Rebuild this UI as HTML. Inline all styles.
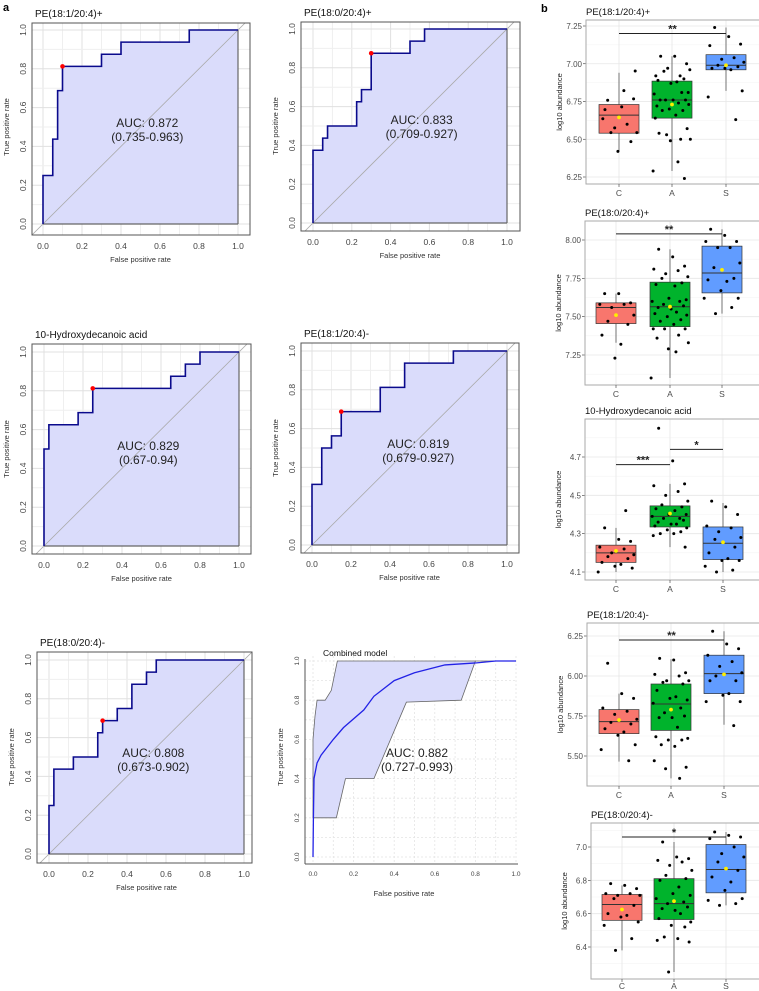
<!DOCTYPE html>
<html><head><meta charset="utf-8">
<style>
html,body{margin:0;padding:0;background:#fff;}
svg{display:block;font-family:"Liberation Sans",sans-serif;}
</style></head>
<body>
<svg id="fig" width="759" height="991" viewBox="0 0 759 991" xmlns="http://www.w3.org/2000/svg">
<text x="3" y="11" font-size="11" font-weight="bold">a</text>
<text x="541" y="12" font-size="11" font-weight="bold">b</text>
</svg>
<script>
// ---------- ROC data ----------
const roc1Fpr=[0,0,.05,.05,.075,.075,.1,.1,.3,.3,.4,.4,.75,.75,1];
const roc1Tpr=[0,.25,.25,.4375,.4375,.6875,.6875,.8125,.8125,.875,.875,.9375,.9375,1,1];
const roc1Best=[.1,.8125];
const roc2Fpr=[0,0,.05,.05,.075,.075,.225,.225,.25,.25,.3,.3,.5,.5,.575,.575,1];
const roc2Tpr=[0,.375,.375,.4375,.4375,.5,.5,.625,.625,.6875,.6875,.875,.875,.9375,.9375,1,1];
const roc2Best=[.3,.875];
const roc3Fpr=[0,0,.025,.025,.175,.175,.25,.25,.65,.65,.725,.725,.8,.8,1];
const roc3Tpr=[0,.5,.5,.625,.625,.6875,.6875,.8125,.8125,.875,.875,.9375,.9375,1,1];
const roc3Best=[.25,.8125];
const roc4Fpr=[0,0,.05,.05,.1,.1,.15,.15,.35,.35,.475,.475,.725,.725,1];
const roc4Tpr=[0,.3125,.3125,.5,.5,.5625,.5625,.6875,.6875,.8125,.8125,.9375,.9375,1,1];
const roc4Best=[.15,.6875];
const roc5Fpr=[0,0,.025,.025,.125,.125,.25,.25,.275,.275,.35,.35,.425,.425,.5,.5,.55,.55,1];
const roc5Tpr=[0,.25,.25,.4375,.4375,.5,.5,.625,.625,.6875,.6875,.75,.75,.875,.875,.9375,.9375,1,1];
const roc5Best=[.275,.6875];
const rocTicks=[0,0.2,0.4,0.6,0.8,1.0];
const rocTickLabels=["0.0","0.2","0.4","0.6","0.8","1.0"];
const combMeanFpr=[0,.002,.005,.02,.04,.1,.15,.25,.3,.4,.5,.65,.8,.9,1];
const combMeanTpr=[0,.2,.4,.48,.52,.6,.66,.75,.82,.9,.94,.98,.99,1,1];
const combUpFpr=[0,0,.01,.02,.06,.09,.12,1];
const combUpTpr=[.2,.6,.72,.8,.8,.85,1,1];
const combLoFpr=[0,.115,.16,.3,.46,.73,.8,1];
const combLoTpr=[.2,.2,.4,.4,.79,.8,1,1];

// ---------- Boxplot data ----------
const groups=["C","A","S"];
const jit=[-.21,.05,.27,-.3,.15,-.08,.33,-.15,.22,-.26,.09,-.02,.3,-.33,.18,-.12,.25,-.22,.02,.12,-.28,.31,-.05,.2,-.18,.07,-.31,.28,-.1,.16,-.24,.34,-.03,.11,-.35,.23,-.14];
const b1Stats=[[6.42,6.54,6.66,6.73,6.94,6.645],[6.29,6.64,6.76,6.885,7.05,6.73],[6.82,6.96,6.99,7.06,7.24,6.99]];
const b1C=[6.758,6.714,6.767,6.636,6.599,6.575,6.544,6.544,6.484,6.696,6.822,6.42,6.952];
const b1A=[7.05,7.05,7.0,6.92,6.92,6.97,6.96,6.95,6.9,6.89,6.88,6.87,6.81,6.80,6.81,6.76,6.76,6.76,6.76,6.74,6.72,6.73,6.70,6.69,6.69,6.66,6.64,6.57,6.53,6.50,6.54,6.50,6.49,6.35,6.29,6.24];
const b1S=[7.24,7.18,7.13,7.12,7.04,7.03,7.01,6.99,6.98,6.97,6.96,6.97,6.82,6.78,6.63];
const b2Stats=[[7.33,7.455,7.56,7.59,7.65,7.51],[7.10,7.435,7.565,7.725,7.94,7.565],[7.52,7.655,7.785,7.96,8.07,7.805]];
const b2C=[7.65,7.65,7.59,7.58,7.58,7.56,7.51,7.47,7.45,7.38,7.32,7.23];
const b2A=[7.94,7.89,7.83,7.81,7.80,7.78,7.76,7.75,7.72,7.71,7.70,7.62,7.61,7.60,7.60,7.58,7.57,7.56,7.55,7.53,7.52,7.51,7.50,7.48,7.47,7.45,7.42,7.42,7.42,7.38,7.36,7.33,7.29,7.27,7.10];
const b2S=[8.07,8.03,7.99,7.99,7.95,7.95,7.85,7.82,7.75,7.74,7.73,7.67,7.62,7.62,7.56,7.52];
const b3Stats=[[4.10,4.15,4.20,4.24,4.33,4.21],[4.23,4.335,4.39,4.445,4.56,4.405],[4.10,4.165,4.25,4.335,4.46,4.255]];
const b3C=[4.33,4.27,4.26,4.23,4.22,4.20,4.19,4.18,4.17,4.15,4.14,4.13,4.12,4.10,4.42];
const b3A=[4.85,4.68,4.56,4.55,4.52,4.50,4.47,4.45,4.44,4.43,4.42,4.40,4.40,4.39,4.38,4.38,4.37,4.36,4.35,4.35,4.34,4.33,4.32,4.31,4.30,4.30,4.29,4.23];
const b3S=[4.47,4.44,4.40,4.34,4.33,4.31,4.28,4.27,4.23,4.20,4.17,4.16,4.16,4.13,4.11,4.10];
const b4Stats=[[5.465,5.64,5.715,5.79,5.89,5.725],[5.36,5.66,5.825,5.95,6.105,5.79],[5.695,5.89,6.015,6.13,6.28,6.01]];
const b4C=[6.08,5.89,5.86,5.80,5.78,5.76,5.73,5.71,5.70,5.67,5.65,5.63,5.57,5.54,5.47];
const b4A=[6.11,6.10,6.02,6.01,6.00,5.97,5.97,5.96,5.95,5.91,5.87,5.86,5.85,5.83,5.80,5.77,5.75,5.74,5.74,5.68,5.62,5.61,5.60,5.60,5.57,5.56,5.47,5.43,5.42,5.36];
const b4S=[6.28,6.20,6.17,6.13,6.09,6.06,6.02,6.00,5.97,5.97,5.89,5.88,5.84,5.84,5.69];
const b5Stats=[[6.38,6.56,6.655,6.715,6.77,6.625],[6.25,6.565,6.66,6.81,7.03,6.675],[6.65,6.725,6.865,7.015,7.09,6.87]];
const b5C=[6.78,6.77,6.75,6.72,6.72,6.71,6.71,6.69,6.65,6.60,6.59,6.58,6.55,6.53,6.45,6.38];
const b5A=[7.03,6.94,6.93,6.92,6.91,6.89,6.86,6.83,6.81,6.80,6.76,6.72,6.71,6.69,6.67,6.66,6.64,6.63,6.62,6.60,6.57,6.55,6.53,6.52,6.46,6.45,6.44,6.43,6.25];
const b5S=[7.09,7.07,7.06,7.05,7.00,6.96,6.94,6.91,6.86,6.82,6.79,6.74,6.69,6.68,6.66,6.65];

const NS="http://www.w3.org/2000/svg";
const svg=document.getElementById('fig');
function mk(tag,attrs,parent,text){const e=document.createElementNS(NS,tag);for(const k in attrs)e.setAttribute(k,attrs[k]);if(text!==undefined)e.textContent=text;(parent||svg).appendChild(e);return e;}
let clipId=0;

function rocPanel(name,P,fpr,tpr,best,auc,ci){
  const g=mk('g',{});
  
  
  const X=v=>P.x0+v*(P.x1-P.x0), Y=v=>P.y0-v*(P.y0-P.y1);
  const cid='c'+(clipId++);
  const cp=mk('clipPath',{id:cid},g);mk('rect',{x:P.l,y:P.t,width:P.r-P.l,height:P.b-P.t},cp);
  for(let i=0;i<=10;i++){const v=i/10;
    mk('line',{x1:X(v),x2:X(v),y1:P.t,y2:P.b,stroke:i%2?'#efefef':'#e0e0e0','stroke-width':1},g);
    mk('line',{y1:Y(v),y2:Y(v),x1:P.l,x2:P.r,stroke:i%2?'#efefef':'#e0e0e0','stroke-width':1},g);}
  let d='M'+X(fpr[0])+','+Y(0);
  for(let i=0;i<fpr.length;i++)d+=' L'+X(fpr[i])+','+Y(tpr[i]);
  d+=' L'+X(1)+','+Y(0)+' Z';
  const area=mk('path',{d:d,fill:'#dadcfb',stroke:'none'},g);
  
  
  mk('line',{x1:X(-0.1),y1:Y(-0.1),x2:X(1.1),y2:Y(1.1),stroke:'#aaa','stroke-width':.8,'clip-path':'url(#'+cid+')'},g);
  mk('line',{x1:X(1),y1:Y(0),x2:X(1),y2:Y(1),stroke:'#666','stroke-width':1.2},g);
  mk('line',{x1:X(0),y1:Y(0),x2:X(1),y2:Y(0),stroke:'#666','stroke-width':1.2},g);
  let d2='';for(let i=0;i<fpr.length;i++)d2+=(i?' L':'M')+X(fpr[i])+','+Y(tpr[i]);
  const line=mk('path',{d:d2,fill:'none',stroke:'#0a0a8c','stroke-width':1.6},g);
  
  
  const dot=mk('circle',{cx:X(best[0]),cy:Y(best[1]),r:2.3,fill:'#f00'},g);
  
  
  mk('rect',{x:P.l,y:P.t,width:P.r-P.l,height:P.b-P.t,fill:'none',stroke:'#555','stroke-width':1},g);
  rocTicks.forEach((v,i)=>{
    const tx=mk('text',{x:X(v),y:P.b+14,'font-size':8.5,fill:'#444','text-anchor':'middle'},g,rocTickLabels[i]);
    
    
    const ty=mk('text',{x:0,y:0,'font-size':8.5,fill:'#444','text-anchor':'middle',transform:'translate('+(P.l-6)+','+Y(v)+') rotate(-90)'},g,rocTickLabels[i]);
    
    
  });
  const xt=mk('text',{x:(X(0)+X(1))/2,y:P.b+27,'font-size':7.5,fill:'#333','text-anchor':'middle'},g,'False positive rate');
  
  
  const yt=mk('text',{x:0,y:0,'font-size':7.5,fill:'#333','text-anchor':'middle',transform:'translate('+(P.l-23)+','+((Y(0)+Y(1))/2)+') rotate(-90)'},g,'True positive rate');
  
  
  const tt=mk('text',{x:P.l+3,y:P.t-6,'font-size':10,fill:'#111'},g,P.title);
  
  
  const cx=X(P.ax),cy=Y(P.ay);
  const a1=mk('text',{x:cx,y:cy,'font-size':12,fill:'#222','text-anchor':'middle'},g,'AUC: '+auc);
  
  
  const a2=mk('text',{x:cx,y:cy+14,'font-size':12,fill:'#222','text-anchor':'middle'},g,'('+ci+')');
  
  
}
rocPanel('roc-pe-18-1-20-4-pos',{l:32,r:250,t:23,b:235,x0:43,x1:238,y0:224,y1:30,title:'PE(18:1/20:4)+',ax:.535,ay:.5},roc1Fpr,roc1Tpr,roc1Best,'0.872','0.735-0.963');
rocPanel('roc-pe-18-0-20-4-pos',{l:301,r:520,t:22,b:231,x0:313,x1:507,y0:223,y1:29,title:'PE(18:0/20:4)+',ax:.56,ay:.51},roc2Fpr,roc2Tpr,roc2Best,'0.833','0.709-0.927');
rocPanel('roc-10-hydroxydecanoic-acid',{l:32,r:251,t:344,b:554,x0:44,x1:239,y0:546,y1:352,title:'10-Hydroxydecanoic acid',ax:.535,ay:.495},roc3Fpr,roc3Tpr,roc3Best,'0.829','0.67-0.94');
rocPanel('roc-pe-18-1-20-4-neg',{l:301,r:519,t:343,b:553,x0:312,x1:507,y0:545,y1:351,title:'PE(18:1/20:4)-',ax:.545,ay:.5},roc4Fpr,roc4Tpr,roc4Best,'0.819','0.679-0.927');
rocPanel('roc-pe-18-0-20-4-neg',{l:37,r:252,t:652,b:863,x0:49,x1:244,y0:854,y1:660,title:'PE(18:0/20:4)-',ax:.535,ay:.5},roc5Fpr,roc5Tpr,roc5Best,'0.808','0.673-0.902');

// Combined model
(function(){
  const g=mk('g',{});
  
  
  const x0=313,x1=516,y0=857,y1=661;
  const X=v=>x0+v*(x1-x0), Y=v=>y0-v*(y0-y1);
  for(let i=0;i<=10;i++){const v=i/10;
    mk('line',{x1:X(v),x2:X(v),y1:y1-5,y2:864,stroke:'#e4e4e4','stroke-width':.8,'stroke-dasharray':'2,2'},g);
    mk('line',{y1:Y(v),y2:Y(v),x1:305,x2:X(1),stroke:'#e4e4e4','stroke-width':.8,'stroke-dasharray':'2,2'},g);}
  let d='';
  for(let i=0;i<combUpFpr.length;i++)d+=(i?' L':'M')+X(combUpFpr[i])+','+Y(combUpTpr[i]);
  for(let i=combLoFpr.length-1;i>=0;i--)d+=' L'+X(combLoFpr[i])+','+Y(combLoTpr[i]);
  d+=' Z';
  const band=mk('path',{d:d,fill:'#dadcfb',stroke:'#666','stroke-width':.8},g);
  
  
  let d2='';for(let i=0;i<combMeanFpr.length;i++)d2+=(i?' L':'M')+X(combMeanFpr[i])+','+Y(combMeanTpr[i]);
  const ml=mk('path',{d:d2,fill:'none',stroke:'#2222e6','stroke-width':1.3},g);
  
  
  mk('line',{x1:305,y1:y1-2,x2:305,y2:864,stroke:'#555','stroke-width':1},g);
  mk('line',{x1:305,y1:864,x2:X(1)+2,y2:864,stroke:'#555','stroke-width':1},g);
  rocTicks.forEach((v,i)=>{
    const tx=mk('text',{x:X(v),y:876,'font-size':6.5,fill:'#444','text-anchor':'middle'},g,rocTickLabels[i]);
    
    
    const ty=mk('text',{x:0,y:0,'font-size':6.5,fill:'#444','text-anchor':'middle',transform:'translate(299,'+Y(v)+') rotate(-90)'},g,rocTickLabels[i]);
    
    
  });
  const xt=mk('text',{x:404,y:896,'font-size':7.5,fill:'#333','text-anchor':'middle'},g,'False positive rate');
  
  
  const yt=mk('text',{x:0,y:0,'font-size':7.5,fill:'#333','text-anchor':'middle',transform:'translate(283,757) rotate(-90)'},g,'True positive rate');
  
  
  const tt=mk('text',{x:323,y:656,'font-size':8.5,fill:'#111'},g,'Combined model');
  
  
  const a1=mk('text',{x:417,y:757,'font-size':12,fill:'#222','text-anchor':'middle'},g,'AUC: 0.882');
  
  
  const a2=mk('text',{x:417,y:771,'font-size':12,fill:'#222','text-anchor':'middle'},g,'(0.727-0.993)');
  
  
})();

// ---------- Box plots ----------
const fills=['#f8766d','#00b32c','#619cff'];
function boxPanel(name,P,stats,pts,ticks,tickLabels,sigs){
  const g=mk('g',{});
  
  
  const Y=v=>P.ya+(v-P.va)*(P.yb-P.ya)/(P.vb-P.va);
  const half=20;
  mk('rect',{x:P.l,y:P.t,width:759-P.l,height:P.b-P.t,fill:'#fff'},g);
  const step=ticks[1]-ticks[0];
  for(let k=-2;k<ticks.length+2;k++){const v=ticks[0]+(k-0.5)*step;const y=Y(v);if(y>P.t&&y<P.b)mk('line',{x1:P.l,x2:759,y1:y,y2:y,stroke:'#f3f3f3','stroke-width':.6},g);}
  ticks.forEach((v,i)=>{const y=Y(v);
    mk('line',{x1:P.l,x2:759,y1:y,y2:y,stroke:'#e6e6e6','stroke-width':.8},g);
    mk('line',{x1:P.l-3,x2:P.l,y1:y,y2:y,stroke:'#333','stroke-width':.6},g);
    const t=mk('text',{x:P.l-4,y:y+3,'font-size':8,fill:'#4d4d4d','text-anchor':'end'},g,tickLabels[i]);
    
    
  });
  P.cx.forEach(c=>mk('line',{x1:c,x2:c,y1:P.t,y2:P.b,stroke:'#e6e6e6','stroke-width':.8},g));
  stats.forEach((s,gi)=>{const c=P.cx[gi];
    mk('line',{x1:c,x2:c,y1:Y(s[0]),y2:Y(s[4]),stroke:'#555','stroke-width':.8},g);
    const bx=mk('rect',{x:c-half,y:Y(s[3]),width:2*half,height:Y(s[1])-Y(s[3]),fill:fills[gi],stroke:'#333','stroke-width':.7},g);
    
    
    mk('line',{x1:c-half,x2:c+half,y1:Y(s[2]),y2:Y(s[2]),stroke:'#333','stroke-width':1},g);
  });
  pts.forEach((arr,gi)=>{arr.forEach((v,i)=>{
    const p=mk('circle',{cx:P.cx[gi]+jit[i%jit.length]*54,cy:Y(v),r:1.5,fill:'#000'},g);
    
    
  });});
  stats.forEach((s,gi)=>{
    const m=mk('circle',{cx:P.cx[gi],cy:Y(s[5]),r:1.9,fill:'#ffee00'},g);
    
    
  });
  sigs.forEach(sg=>{const y=Y(sg[2]);
    const l=mk('line',{x1:P.cx[sg[0]],x2:P.cx[sg[1]],y1:y,y2:y,stroke:'#222','stroke-width':1},g);
    
    
    const t=mk('text',{x:(P.cx[sg[0]]+P.cx[sg[1]])/2,y:y-1,'font-size':11,'font-weight':'bold',fill:'#222','text-anchor':'middle'},g,sg[3]);
    
    
  });
  mk('rect',{x:P.l,y:P.t,width:759-P.l+2,height:P.b-P.t,fill:'none',stroke:'#aaa','stroke-width':1},g);
  groups.forEach((gn,gi)=>{
    mk('line',{x1:P.cx[gi],x2:P.cx[gi],y1:P.b,y2:P.b+3,stroke:'#333','stroke-width':.6},g);
    const t=mk('text',{x:P.cx[gi],y:P.b+P.lo,'font-size':8.5,fill:'#4d4d4d','text-anchor':'middle'},g,gn);
    
    
  });
  const yt=mk('text',{x:0,y:0,'font-size':7.5,fill:'#222','text-anchor':'middle',transform:'translate('+(P.l-24)+','+((P.t+P.b)/2)+') rotate(-90)'},g,'log10 abundance');
  
  
  const tt=mk('text',{x:P.l,y:P.t-5,'font-size':9.5,fill:'#111'},g,P.title);
  
  
}
boxPanel('box-pe-18-1-20-4-pos',{l:586,t:20,b:184,lo:12,ya:26,va:7.25,yb:177,vb:6.25,cx:[619,672,726],title:'PE(18:1/20:4)+'},b1Stats,[b1C,b1A,b1S],[6.25,6.5,6.75,7.0,7.25],["6.25","6.50","6.75","7.00","7.25"],[[0,2,7.2,'**']]);
boxPanel('box-pe-18-0-20-4-pos',{l:585,t:221,b:385,lo:12,ya:240,va:8.0,yb:355,vb:7.25,cx:[616,670,722],title:'PE(18:0/20:4)+'},b2Stats,[b2C,b2A,b2S],[7.25,7.5,7.75,8.0],["7.25","7.50","7.75","8.00"],[[0,2,8.04,'**']]);
boxPanel('box-10-hydroxydecanoic-acid',{l:585,t:419,b:580,lo:12,ya:457,va:4.7,yb:572,vb:4.1,cx:[616,670,723],title:'10-Hydroxydecanoic acid'},b3Stats,[b3C,b3A,b3S],[4.1,4.3,4.5,4.7],["4.1","4.3","4.5","4.7"],[[0,1,4.66,'***'],[1,2,4.74,'*']]);
boxPanel('box-pe-18-1-20-4-neg',{l:587,t:623,b:786,lo:12,ya:636,va:6.25,yb:756,vb:5.5,cx:[619,671,724],title:'PE(18:1/20:4)-'},b4Stats,[b4C,b4A,b4S],[5.5,5.75,6.0,6.25],["5.50","5.75","6.00","6.25"],[[0,2,6.225,'**']]);
boxPanel('box-pe-18-0-20-4-neg',{l:591,t:823,b:979,lo:10,ya:847,va:7.0,yb:947,vb:6.4,cx:[622,674,726],title:'PE(18:0/20:4)-'},b5Stats,[b5C,b5A,b5S],[6.4,6.6,6.8,7.0],["6.4","6.6","6.8","7.0"],[[0,2,7.06,'*']]);
</script>
</body></html>
